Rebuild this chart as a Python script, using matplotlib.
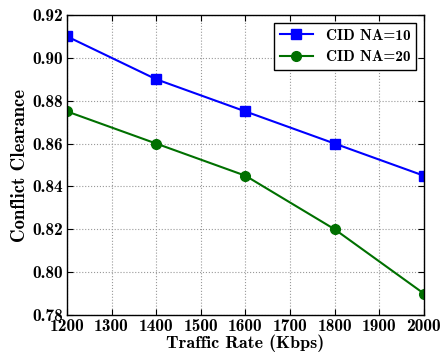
import matplotlib
matplotlib.use("Agg")
import matplotlib.pyplot as plt

traffic = [1200, 1400, 1600, 1800, 2000]
cid_na10 = [0.91, 0.89, 0.875, 0.86, 0.845]
cid_na20 = [0.875, 0.86, 0.845, 0.82, 0.79]
xticks = [1200, 1300, 1400, 1500, 1600, 1700, 1800, 1900, 2000]
yticks = [0.78, 0.80, 0.82, 0.84, 0.86, 0.88, 0.90, 0.92]

plt.rcParams['font.family'] = ['cmb10', 'DejaVu Serif']
plt.rcParams['axes.unicode_minus'] = False
plt.rcParams['mathtext.fontset'] = 'cm'

fig = plt.figure(figsize=(4.42, 3.63), dpi=100)
ax = fig.add_axes([0.1516, 0.1322, 0.8074, 0.8265])

ax.plot(traffic, cid_na10, color='#0000ff', marker='s', markersize=7, lw=1.5, label='CID NA=10')
ax.plot(traffic, cid_na20, color='#007000', marker='o', markersize=7, lw=1.5, label='CID NA=20')

ax.set_xlim(1200, 2000)
ax.set_ylim(0.78, 0.92)
ax.set_xticks(xticks)
ax.set_xticklabels([str(t) for t in xticks])
ax.set_yticks(yticks)
ax.set_yticklabels([f"{t:.2f}" for t in yticks])
ax.tick_params(labelsize=12.5, direction='in', length=4, top=True, right=True, pad=3)
ax.grid(True, linestyle=':', color='#999999', linewidth=0.8)
for s in ax.spines.values():
    s.set_linewidth(1.0)

ax.set_xlabel('Traffic Rate (Kbps)', fontsize=13, labelpad=0)
ax.set_ylabel('Conflict Clearance', fontsize=13.5, labelpad=2)

leg = ax.legend(loc='upper right', fontsize=11, fancybox=False, edgecolor='black',
                framealpha=1, borderaxespad=0.5, handlelength=2.2)
leg.get_frame().set_linewidth(1.0)

fig.savefig('out.png', dpi=100)
